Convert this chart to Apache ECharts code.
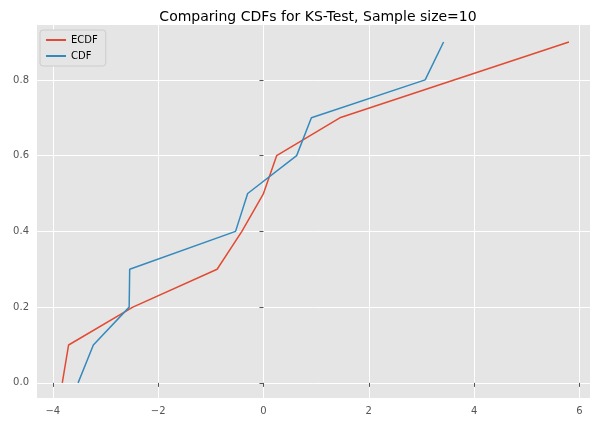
<!DOCTYPE html>
<html>
<head>
<meta charset="utf-8">
<script src="https://cdn.jsdelivr.net/npm/echarts@6/dist/echarts.min.js"></script>
<style>html,body{margin:0;padding:0;background:#fff}#c{width:598px;height:428px}</style>
</head>
<body>
<div id="c"></div>
<script>
var ecdfX = [-3.82, -3.70, -2.48, -0.88, -0.41, 0.0, 0.25, 1.45, 5.80];
var ecdfY = [0.0, 0.1, 0.2, 0.3, 0.4, 0.5, 0.6, 0.7, 0.9];
var cdfX = [-3.52, -3.23, -2.55, -2.54, -0.53, -0.30, 0.63, 0.91, 3.07, 3.42];
var cdfY = [0.0, 0.1, 0.2, 0.3, 0.4, 0.5, 0.6, 0.7, 0.8, 0.9];
var xTicks = [-4, -2, 0, 2, 4, 6];
var yTicks = [0.0, 0.2, 0.4, 0.6, 0.8];

function pairs(xs, ys) { return xs.map(function (x, i) { return [x, ys[i]]; }); }

var chart = echarts.init(document.getElementById('c'));
chart.setOption({
    animation: false,
    title: {
        text: 'Comparing CDFs for KS-Test, Sample size=10',
        left: 313, top: 5, textAlign: 'center',
        textStyle: {fontFamily: 'DejaVu Sans', fontSize: 14, fontWeight: 'normal', color: '#000'}
    },
    legend: {
        data: ['ECDF', 'CDF'], orient: 'vertical', left: 40, top: 30,
        itemWidth: 20, itemHeight: 2, itemGap: 6,
        backgroundColor: '#e5e5e5', borderColor: '#ccc', borderWidth: 1, borderRadius: 3,
        padding: [5, 8, 5, 6],
        icon: 'rect',
        textStyle: {fontFamily: 'DejaVu Sans', fontSize: 10, color: '#000'}
    },
    grid: {left: 37, right: 8, top: 25, bottom: 30, show: true, backgroundColor: '#e5e5e5', borderWidth: 0},
    xAxis: {
        type: 'value', min: -4.3, max: 6.2,
        axisLine: {show: false},
        axisTick: {show: true, customValues: xTicks, length: 4, lineStyle: {color: '#555'}},
        axisLabel: {customValues: xTicks, color: '#555', fontFamily: 'DejaVu Sans', fontSize: 10,
            formatter: function (v) { return String(v).replace('-', '\u2212'); }},
        splitLine: {show: true, lineStyle: {color: '#fff', width: 1}}
    },
    yAxis: {
        type: 'value', min: -0.04, max: 0.945,
        axisLine: {show: false},
        axisTick: {show: true, customValues: yTicks, length: 4, lineStyle: {color: '#555'}},
        axisLabel: {customValues: yTicks, color: '#555', fontFamily: 'DejaVu Sans', fontSize: 10,
            formatter: function (v) { return v.toFixed(1); }},
        splitLine: {show: true, lineStyle: {color: '#fff', width: 1}}
    },
    series: [
        {name: 'ECDF', type: 'line', data: pairs(ecdfX, ecdfY), showSymbol: false,
            color: '#E24A33', lineStyle: {width: 1.5}},
        {name: 'CDF', type: 'line', data: pairs(cdfX, cdfY), showSymbol: false,
            color: '#348ABD', lineStyle: {width: 1.5}}
    ]
});
</script>
</body>
</html>
